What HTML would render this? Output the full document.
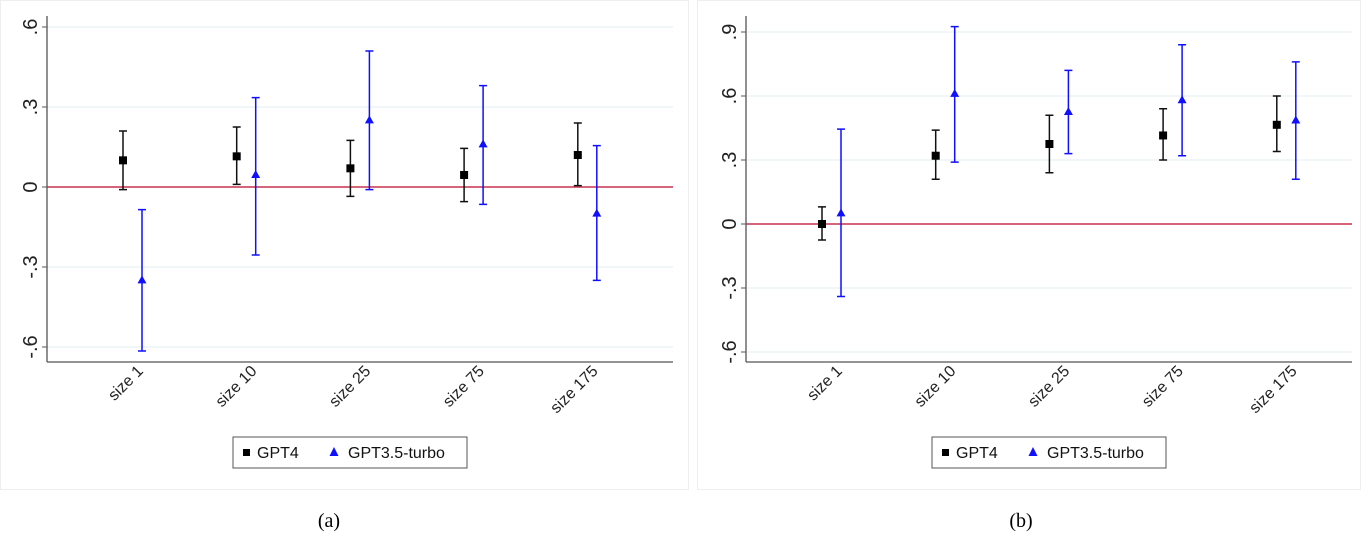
<!DOCTYPE html>
<html><head><meta charset="utf-8"><style>
body{margin:0;background:#fff;}
svg{display:block;font-family:"Liberation Sans",sans-serif;}
</style></head><body>
<svg id="s" width="1362" height="537">
<rect x="0.5" y="0.5" width="688" height="489" fill="#fff" stroke="#eee"/>
<rect x="697.5" y="0.5" width="663" height="489" fill="#fff" stroke="#eee"/>
<text x="329" y="527" font-family="Liberation Serif" font-size="20" text-anchor="middle">(a)</text>
<text x="1021" y="527" font-family="Liberation Serif" font-size="20" text-anchor="middle">(b)</text>
</svg>
<script>
const categories=["size 1","size 10","size 25","size 75","size 175"];
const aGpt4=[0.10,0.115,0.07,0.045,0.12];
const aGpt4Lo=[-0.01,0.01,-0.035,-0.055,0.005];
const aGpt4Hi=[0.21,0.225,0.175,0.145,0.24];
const aGpt35=[-0.35,0.045,0.25,0.16,-0.10];
const aGpt35Lo=[-0.615,-0.255,-0.01,-0.065,-0.35];
const aGpt35Hi=[-0.085,0.335,0.51,0.38,0.155];
const aTicks=[0.6,0.3,0,-0.3,-0.6];
const aTickLabels=[".6",".3","0","-.3","-.6"];
const bGpt4=[0,0.32,0.375,0.415,0.465];
const bGpt4Lo=[-0.075,0.21,0.24,0.30,0.34];
const bGpt4Hi=[0.08,0.44,0.51,0.54,0.60];
const bGpt35=[0.05,0.61,0.525,0.58,0.485];
const bGpt35Lo=[-0.34,0.29,0.33,0.32,0.21];
const bGpt35Hi=[0.445,0.925,0.72,0.84,0.76];
const bTicks=[0.9,0.6,0.3,0,-0.3,-0.6];
const bTickLabels=[".9",".6",".3","0","-.3","-.6"];

const NS="http://www.w3.org/2000/svg";
const svg=document.getElementById('s');
function mk(tag,attrs,parent){const e=document.createElementNS(NS,tag);for(const k in attrs)e.setAttribute(k,attrs[k]);(parent||svg).appendChild(e);return e;}

function panel(id,axX,right,y0px,pxPer,x0,ticks,labels,g4,g4lo,g4hi,g3,g3lo,g3hi,legX){
  const g=mk('g',{});
  
  
  const Y=v=>y0px-v/0.3*pxPer;
  const X=i=>x0+i*113.7;
  ticks.forEach((t,i)=>{
    const gl=mk('line',{x1:axX,x2:right,y1:Y(t),y2:Y(t),stroke:'#e3eef3','stroke-width':1},g);
    
    
    mk('line',{x1:axX-5,x2:axX,y1:Y(t),y2:Y(t),stroke:'#555'},g);
    const tx=mk('text',{x:0,y:0,'font-size':20,'text-anchor':'middle',fill:'#222',transform:`translate(${axX-10},${Y(t)}) rotate(-90)`},g);
    tx.textContent=labels[i];
    
    
  });
  const z=mk('line',{x1:axX,x2:right,y1:Y(0),y2:Y(0),stroke:'#c8314f','stroke-width':1.6},g);
  
  
  const ya=mk('line',{x1:axX,x2:axX,y1:16,y2:362,stroke:'#555','stroke-width':1.3},g);
  
  
  const xa=mk('line',{x1:axX,x2:right,y1:362,y2:362,stroke:'#555','stroke-width':1.3},g);
  
  
  categories.forEach((c,i)=>{
    const cx=X(i)+9;
    const t=mk('text',{x:0,y:0,'font-size':16,'text-anchor':'end',fill:'#222',transform:`translate(${cx+12},${372}) rotate(-45)`},g);
    t.textContent=c;
    
    
    const x1=X(i);
    const e1=mk('path',{d:`M${x1},${Y(g4lo[i])}V${Y(g4hi[i])}M${x1-4},${Y(g4lo[i])}h8M${x1-4},${Y(g4hi[i])}h8`,stroke:'#111','stroke-width':1.5,fill:'none'},g);
    
    
    const m1=mk('rect',{x:x1-4,y:Y(g4[i])-4,width:8,height:8,fill:'#000'},g);
    
    
    const x2=X(i)+19;
    const e2=mk('path',{d:`M${x2},${Y(g3lo[i])}V${Y(g3hi[i])}M${x2-4},${Y(g3lo[i])}h8M${x2-4},${Y(g3hi[i])}h8`,stroke:'#1010ff','stroke-width':1.5,fill:'none'},g);
    
    
    const yy=Y(g3[i]);
    const m2=mk('path',{d:`M${x2},${yy-5}L${x2+4.5},${yy+3}L${x2-4.5},${yy+3}Z`,fill:'#1010ff'},g);
    
    
  });
  const lg=mk('g',{},g);
  
  
  mk('rect',{x:legX,y:437,width:234,height:31,fill:'#fff',stroke:'#555'},lg);
  mk('rect',{x:legX+10,y:449,width:7,height:7,fill:'#000'},lg);
  const l1=mk('text',{x:legX+24,y:458,'font-size':16,fill:'#111'},lg);
  l1.textContent='GPT4';
  
  
  mk('path',{d:`M${legX+101},${447}L${legX+105.5},${456}L${legX+96.5},${456}Z`,fill:'#1010ff'},lg);
  const l2=mk('text',{x:legX+115,y:458,'font-size':16,fill:'#111'},lg);
  l2.textContent='GPT3.5-turbo';
  
  
}
panel('a',47,673,187,80,123,aTicks,aTickLabels,aGpt4,aGpt4Lo,aGpt4Hi,aGpt35,aGpt35Lo,aGpt35Hi,233);
panel('b',746,1352,224,64,822,bTicks,bTickLabels,bGpt4,bGpt4Lo,bGpt4Hi,bGpt35,bGpt35Lo,bGpt35Hi,932);
</script>
</body></html>
